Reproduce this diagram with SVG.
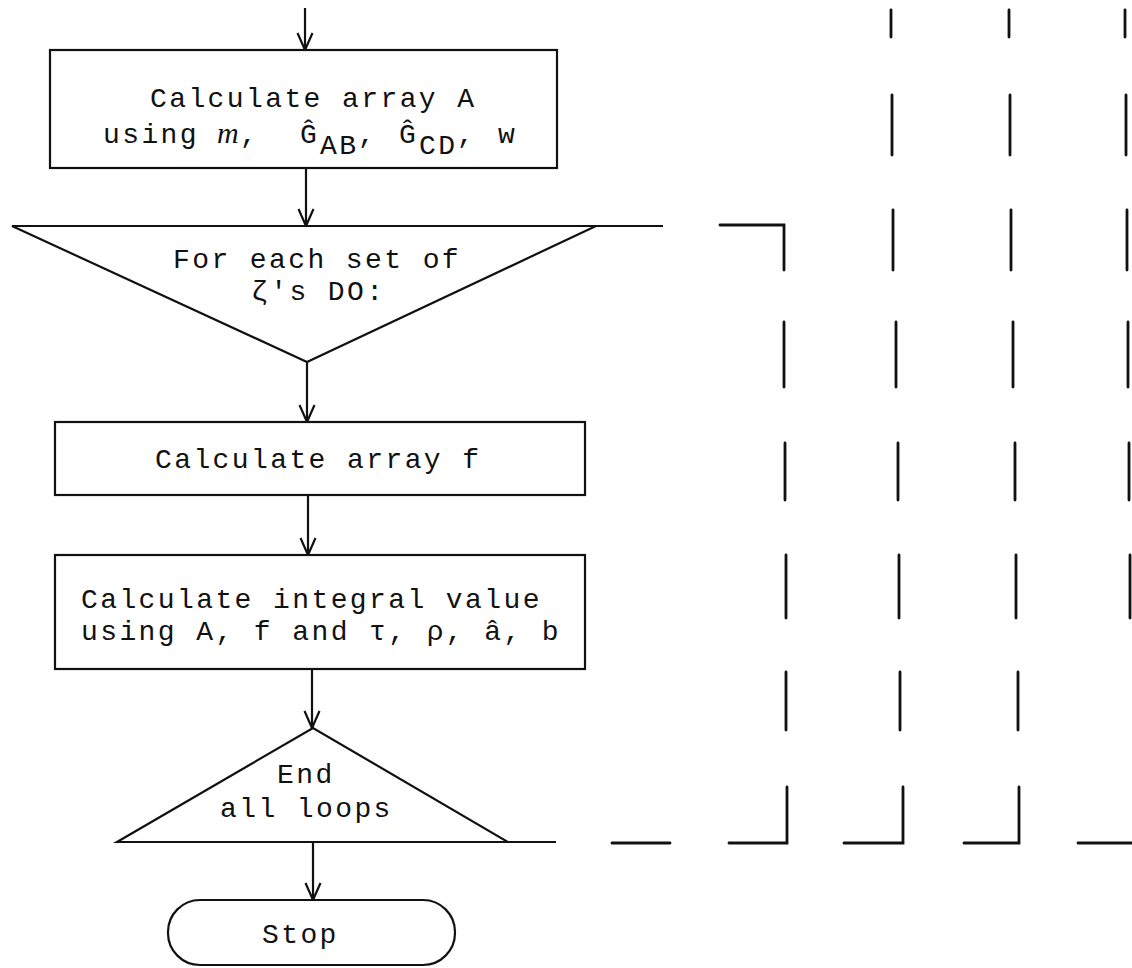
<svg xmlns="http://www.w3.org/2000/svg" width="1132" height="968" viewBox="0 0 1132 968">
<style>
.t{font-family:"Liberation Mono","DejaVu Sans Mono",monospace;font-size:28px;letter-spacing:2.4px;fill:#111}
.n{fill:#fff;stroke:#111;stroke-width:2.2}
.c{fill:none;stroke:#111;stroke-width:2.2}
.d{fill:none;stroke:#111;stroke-width:2.8;stroke-linecap:round}
</style>
<defs>
<marker id="ah" markerUnits="userSpaceOnUse" viewBox="-20 -11 22 22" markerWidth="22" markerHeight="22" refX="0" refY="0" orient="auto">
<path d="M-17,-7.5 L0,0 L-17,7.5" fill="none" stroke="#111" stroke-width="2.2"/>
</marker>
</defs>
<rect width="1132" height="968" fill="#fff"/>

<g id="connectors">
<path class="c" d="M305,8 V50" marker-end="url(#ah)"/>
<path class="c" d="M306,168 V226" marker-end="url(#ah)"/>
<path class="c" d="M307,362 V422" marker-end="url(#ah)"/>
<path class="c" d="M308,495 V555" marker-end="url(#ah)"/>
<path class="c" d="M312,669 V728" marker-end="url(#ah)"/>
<path class="c" d="M313,842 V900" marker-end="url(#ah)"/>
<path class="c" d="M596,226 H663"/>
<path class="c" d="M508,842 H556"/>
</g>

<g id="loop-lines">
<path class="d" d="M720,225 H784 V270"/>
<path class="d" d="M784,322 V387 M785,443 V500 M786,555 V618 M786,672 V730 M787,787 V843 H729"/>
<path class="d" d="M891,10 V37 M892,95 V155 M893,210 V270 M896,322 V387 M898,443 V500 M899,555 V618 M900,672 V730 M903,787 V843 H844"/>
<path class="d" d="M1009,10 V37 M1010,95 V155 M1011,210 V270 M1013,322 V387 M1015,443 V500 M1016,555 V618 M1018,672 V730 M1019,787 V843 H964"/>
<path class="d" d="M1125,10 V37 M1126,95 V155 M1127,210 V270 M1128,322 V387 M1129,443 V500 M1130,555 V618"/>
<path class="d" d="M612,843 H670 M1078,843 H1132"/>
</g>

<g id="node-calc-A">
<rect class="n" x="50" y="50" width="507" height="118"/>
<text class="t" x="150" y="107">Calculate array A</text>
<text class="t" y="143"><tspan x="103">using</tspan><tspan x="217" font-family="Liberation Serif" font-style="italic" font-size="30" letter-spacing="0">m</tspan><tspan x="240">,</tspan><tspan x="300">Ĝ</tspan><tspan x="320" dy="11">AB</tspan><tspan x="358" dy="-11">,</tspan><tspan x="399">Ĝ</tspan><tspan x="419" dy="11">CD</tspan><tspan x="457" dy="-11">,</tspan><tspan x="498">w</tspan></text>
</g>

<g id="node-for-each">
<polygon class="n" points="12,226 596,226 307,362"/>
<text class="t" x="173" y="268">For each set of</text>
<text class="t" x="251" y="300">ζ's DO:</text>
</g>

<g id="node-calc-f">
<rect class="n" x="55" y="422" width="530" height="73"/>
<text class="t" x="155" y="468">Calculate array f</text>
</g>

<g id="node-integral">
<rect class="n" x="55" y="555" width="530" height="114"/>
<text class="t" x="81" y="608">Calculate integral value</text>
<text class="t" x="81" y="640">using A, f and τ, ρ, â, b</text>
</g>

<g id="node-end-loops">
<polygon class="n" points="117,842 313,728 508,842"/>
<text class="t" x="277" y="783">End</text>
<text class="t" x="220" y="817">all loops</text>
</g>

<g id="node-stop">
<rect class="n" x="168" y="900" width="287" height="65" rx="32" ry="32"/>
<text class="t" x="262" y="943">Stop</text>
</g>
</svg>
